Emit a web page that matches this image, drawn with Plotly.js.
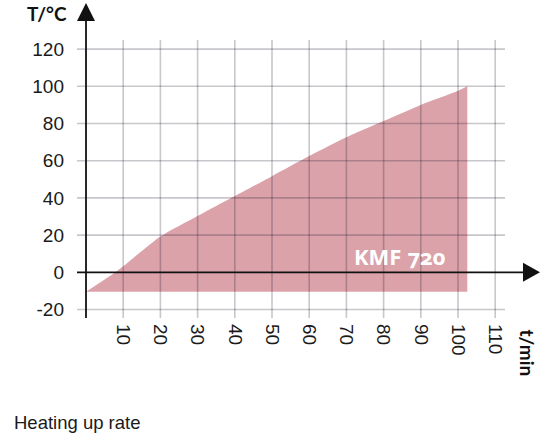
<!DOCTYPE html>
<html>
<head>
<meta charset="utf-8">
<script src="https://cdn.plot.ly/plotly-3.0.1.min.js"></script>
<style>
html,body{margin:0;padding:0;background:#fff;}
.annotation-text{font-feature-settings:"onum" 1;}
</style>
</head>
<body>
<div id="chart" style="width:541px;height:438px;"></div>
<script>
// ---- data ----
const timeMin = [0, 7.9, 10, 20, 30, 40, 50, 60, 70, 80, 90, 100, 102.5];
const tempC   = [-10.5, 0, 3.2, 19.3, 30.3, 41, 51.7, 62.5, 72.6, 81.3, 90, 97.6, 100];
const baseTemp = -10.5;
const xTicks = [10, 20, 30, 40, 50, 60, 70, 80, 90, 100, 110];
const yTicks = [-20, 0, 20, 40, 60, 80, 100, 120];
const seriesLabel = 'KMF 720';
const yTitle = 'T/°C';
const xTitle = 't/min';
const caption = 'Heating up rate';

// ---- layout geometry ----
const W = 541, Hh = 438;
const M = {l: 77, r: 36, t: 40, b: 120};
const PW = W - M.l - M.r, PH = Hh - M.t - M.b;
const xRange = [-2.42, 112.63];
const yRange = [-24.57, 124.9];
const px2x = p => (p - M.l) / PW;
const py2y = p => (M.t + PH - p) / PH;
const dx2p = v => (v - xRange[0]) / (xRange[1] - xRange[0]);
const dy2p = v => (v - yRange[0]) / (yRange[1] - yRange[0]);

const traces = [
  {x: [timeMin[0], timeMin[timeMin.length - 1]], y: [baseTemp, baseTemp], type: 'scatter', mode: 'lines',
   line: {width: 0, color: 'rgba(0,0,0,0)'}, hoverinfo: 'skip', showlegend: false},
  {x: timeMin, y: tempC, type: 'scatter', mode: 'lines',
   fill: 'tonexty', fillcolor: 'rgb(219,162,170)',
   line: {width: 0, color: 'rgba(0,0,0,0)', shape: 'spline', smoothing: 0.7},
   hoverinfo: 'skip', showlegend: false}
];

const gridLine = {color: 'rgba(20,20,40,0.24)', width: 1.6};
const shapes = [];
xTicks.forEach(v => shapes.push({type: 'line', xref: 'x', yref: 'paper', x0: v, x1: v, y0: 0, y1: 1, line: gridLine, layer: 'above'}));
yTicks.filter(v => v !== 0).forEach(v => shapes.push({type: 'line', xref: 'paper', yref: 'y', x0: 0, x1: 1, y0: v, y1: v, line: gridLine, layer: 'above'}));

const ax0 = dx2p(0), ay0 = dy2p(0);
const axLine = {color: '#111', width: 1.8};
// y axis line + arrow
shapes.push({type: 'line', xref: 'paper', yref: 'paper', x0: ax0, x1: ax0, y0: 0, y1: py2y(19), line: axLine, layer: 'above'});
shapes.push({type: 'path', xref: 'paper', yref: 'paper', layer: 'above',
  path: `M ${ax0 - 9/PW} ${py2y(21)} L ${ax0 + 9/PW} ${py2y(21)} L ${ax0} ${py2y(3)} Z`,
  fillcolor: '#111', line: {width: 0}});
// x axis line + arrow
shapes.push({type: 'line', xref: 'paper', yref: 'paper', x0: 0, x1: px2x(525), y0: ay0, y1: ay0, line: axLine, layer: 'above'});
shapes.push({type: 'path', xref: 'paper', yref: 'paper', layer: 'above',
  path: `M ${px2x(523)} ${ay0 + 9.5/PH} L ${px2x(523)} ${ay0 - 9.5/PH} L ${px2x(540)} ${ay0} Z`,
  fillcolor: '#111', line: {width: 0}});

const tickFont = {family: '"Liberation Sans", Arial, sans-serif', size: 19, color: '#1a1a1a'};
const boldFont = {family: 'Lato, "Noto Sans", sans-serif', size: 19, color: '#111', weight: 'bold'};

const annotations = [
  {text: '<b>' + seriesLabel + '</b>', x: 84.5, y: 8.8, xref: 'x', yref: 'y', showarrow: false,
   xanchor: 'center', yanchor: 'middle',
   font: {family: '"Noto Sans", "Open Sans", sans-serif', size: 22, color: '#ffffff'}},
  {text: '<b>' + yTitle + '</b>', x: px2x(46.7), y: py2y(14), xref: 'paper', yref: 'paper', showarrow: false,
   xanchor: 'center', yanchor: 'middle', font: boldFont},
  {text: '<b>' + xTitle + '</b>', x: px2x(527), y: py2y(352.5), xref: 'paper', yref: 'paper', showarrow: false,
   xanchor: 'center', yanchor: 'middle', textangle: 90, font: boldFont},
  {text: caption, x: px2x(12), y: py2y(423), xref: 'paper', yref: 'paper', showarrow: false,
   xanchor: 'left', yanchor: 'middle',
   font: {family: '"Liberation Sans", Arial, sans-serif', size: 18.5, color: '#1a1a1a'}}
];

const layout = {
  width: W, height: Hh,
  margin: M,
  paper_bgcolor: '#fff', plot_bgcolor: '#fff',
  showlegend: false,
  xaxis: {range: xRange, showgrid: false, zeroline: false, showline: false,
    tickvals: xTicks, ticktext: xTicks.map(String), tickangle: 90, ticks: '',
    ticklabelstandoff: 5, tickfont: tickFont, fixedrange: true},
  yaxis: {range: yRange, showgrid: false, zeroline: false, showline: false,
    tickvals: yTicks, ticktext: yTicks.map(String), ticks: '',
    ticklabelstandoff: 12, tickfont: tickFont, fixedrange: true},
  shapes: shapes,
  annotations: annotations
};

Plotly.newPlot('chart', traces, layout, {displayModeBar: false, staticPlot: true});
</script>
</body>
</html>
